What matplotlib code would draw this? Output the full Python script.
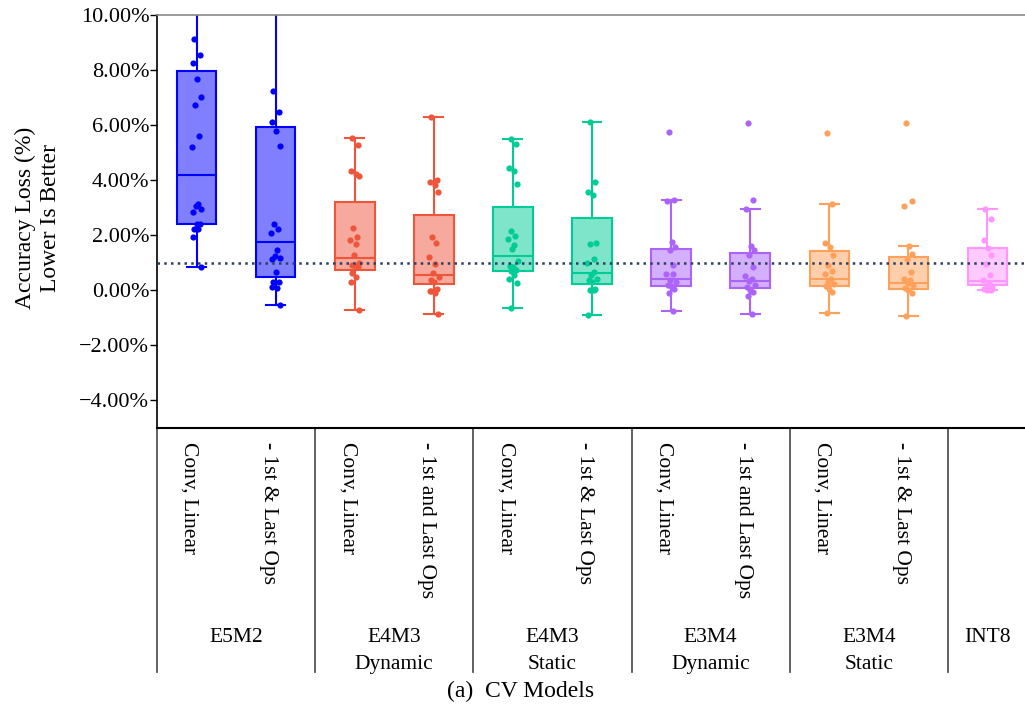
import matplotlib
matplotlib.use("Agg")
import matplotlib.pyplot as plt
from matplotlib.colors import to_rgba
from matplotlib.ticker import FuncFormatter
from matplotlib.transforms import blended_transform_factory

plt.rcParams['font.family'] = ['Liberation Serif', 'DejaVu Serif']

# ---------------- data ----------------
sub_labels = ["Conv, Linear", "- 1st & Last Ops",
              "Conv, Linear", "- 1st and Last Ops",
              "Conv, Linear", "- 1st & Last Ops",
              "Conv, Linear", "- 1st and Last Ops",
              "Conv, Linear", "- 1st & Last Ops",
              None]
group_labels = ["E5M2", "E4M3\nDynamic", "E4M3\nStatic", "E3M4\nDynamic", "E3M4\nStatic", "INT8"]
group_spans = [(0, 1), (2, 3), (4, 5), (6, 7), (8, 9), (10, 10)]
group_colors = ["#0000FF", "#EF553B", "#00CC96", "#AB63FA", "#FFA15A", "#FF97FF"]
box_group = [0, 0, 1, 1, 2, 2, 3, 3, 4, 4, 5]

whislo = [0.84, -0.52, -0.73, -0.85, -0.65, -0.88, -0.75, -0.87, -0.82, -0.93, 0.00]
q1     = [2.41, 0.50, 0.75, 0.23, 0.69, 0.24, 0.17, 0.07, 0.15, 0.05, 0.21]
med    = [4.18, 1.77, 1.18, 0.57, 1.26, 0.62, 0.40, 0.35, 0.42, 0.27, 0.33]
q3     = [7.96, 5.94, 3.21, 2.74, 3.02, 2.62, 1.50, 1.36, 1.43, 1.21, 1.52]
whishi = [12.8, 11.9, 5.52, 6.28, 5.48, 6.12, 3.28, 2.97, 3.13, 1.60, 2.97]

pts0 = [9.13, 8.55, 8.25, 7.66, 7.02, 6.72, 5.61, 5.21, 3.15, 3.07, 2.95, 2.83,
        2.41, 2.41, 2.24, 2.24, 1.92, 0.84, 11.5, 12.8]
pts1 = [7.25, 6.46, 6.12, 5.77, 5.25, 2.41, 2.23, 2.10, 1.45, 1.25, 1.19, 1.14,
        0.68, 0.30, 0.30, 0.10, 0.12, -0.52, 10.8, 11.9]
pts2 = [5.52, 5.27, 4.33, 4.24, 4.16, 2.27, 1.94, 1.82, 1.70, 1.30, 1.01, 0.92,
        0.87, 0.84, 0.63, 0.48, 0.30, -0.73]
pts3 = [6.28, 4.02, 3.95, 3.81, 3.58, 1.92, 1.71, 1.20, 0.97, 0.64, 0.48, 0.36,
        0.30, 0.06, -0.02, -0.10, -0.04, -0.85]
pts4 = [5.48, 5.33, 4.45, 4.35, 3.87, 2.17, 1.96, 1.85, 1.64, 1.50, 1.07, 0.89,
        0.86, 0.73, 0.70, 0.55, 0.42, 0.27, -0.65]
pts5 = [6.12, 3.93, 3.58, 3.48, 1.72, 1.70, 1.12, 0.99, 0.67, 0.55, 0.42, 0.36,
        0.30, 0.06, 0.03, 0.00, -0.88]
pts6 = [5.76, 3.28, 3.23, 1.77, 1.56, 1.48, 0.93, 0.61, 0.59, 0.39, 0.30, 0.21,
        0.15, 0.06, -0.10, -0.75]
pts7 = [6.08, 3.27, 2.97, 1.62, 1.45, 1.27, 0.85, 0.53, 0.40, 0.34, 0.19, 0.12,
        0.03, -0.07, -0.19, -0.87]
pts8 = [5.71, 3.13, 1.72, 1.56, 1.30, 0.93, 0.70, 0.61, 0.40, 0.32, 0.24, 0.15,
        0.06, -0.05, -0.82]
pts9 = [6.06, 3.24, 3.05, 1.60, 1.31, 1.12, 0.65, 0.42, 0.36, 0.27, 0.19, 0.10,
        0.00, -0.10, -0.93]
pts10 = [2.97, 2.58, 1.83, 1.55, 1.30, 0.95, 0.56, 0.36, 0.27, 0.21, 0.12, 0.05,
         0.00, 0.02]
points = [pts0, pts1, pts2, pts3, pts4, pts5, pts6, pts7, pts8, pts9, pts10]

threshold = 1.0
yticks = [-4, -2, 0, 2, 4, 6, 8, 10]

# fixed horizontal jitter pattern for the strip points (positions only)
JIT = [-0.03, 0.04, -0.05, 0.01, 0.05, -0.02, 0.03, -0.06, 0.02, -0.01,
       0.06, -0.04, 0.0, 0.04, -0.03, 0.02, -0.05, 0.05, -0.02, 0.01]

# ---------------- figure ----------------
W, H = 1025, 712
fig = plt.figure(figsize=(W / 100, H / 100), dpi=100)
ax_l, ax_r, ax_t, ax_b = 157, 1027, 15, 428
ax = fig.add_axes([ax_l / W, 1 - ax_b / H, (ax_r - ax_l) / W, (ax_b - ax_t) / H])

positions = list(range(len(q1)))
stats = []
for i in positions:
    stats.append(dict(whislo=whislo[i], q1=q1[i], med=med[i], q3=q3[i],
                      whishi=whishi[i], fliers=[]))

bp = ax.bxp(stats, positions=positions, widths=0.5, capwidths=0.24,
            patch_artist=True, showfliers=False)
for i in positions:
    c = group_colors[box_group[i]]
    b = bp['boxes'][i]
    b.set_facecolor(to_rgba(c, 0.5))
    b.set_edgecolor(c)
    b.set_linewidth(1.5)
    bp['medians'][i].set_color(c)
    bp['medians'][i].set_linewidth(1.5)
    for k in (2 * i, 2 * i + 1):
        bp['whiskers'][k].set_color(c)
        bp['whiskers'][k].set_linewidth(1.5)
        bp['caps'][k].set_color(c)
        bp['caps'][k].set_linewidth(1.5)

for i, pts in enumerate(points):
    c = group_colors[box_group[i]]
    xs = [i + JIT[j % len(JIT)] for j in range(len(pts))]
    ax.scatter(xs, pts, s=20, color=c, zorder=4, linewidths=0)

ax.axhline(threshold, color="#2a3f5f", linestyle=(0, (1, 1.7)), linewidth=1.8, zorder=5)

ax.set_xlim(-0.5, 10.5)
ax.set_ylim(-5, 10)
ax.set_xticks([])
ax.set_yticks(yticks)
ax.yaxis.set_major_formatter(FuncFormatter(
    lambda v, p: ("\u2212" if v < 0 else "") + "%.2f%%" % abs(v)))
ax.tick_params(axis='y', labelsize=16, length=5, width=1, direction='out', pad=0.5)

ax.spines['right'].set_visible(False)
ax.spines['top'].set_color('#888888')
ax.spines['top'].set_linewidth(1.2)
ax.spines['left'].set_color('black')
ax.spines['left'].set_linewidth(1.2)
ax.spines['bottom'].set_color('black')
ax.spines['bottom'].set_linewidth(1.5)

# ---------------- table-like labels below ----------------
trans = blended_transform_factory(ax.transData, ax.transAxes)
ax_h = ax_b - ax_t
def ay(px):
    return (ax_b - px) / ax_h

line_bottom = ay(672)
for x in [-0.5, 1.5, 3.5, 5.5, 7.5, 9.5]:
    ax.plot([x, x], [0, line_bottom], transform=trans, color='#555555',
            linewidth=1.3, clip_on=False)

for i, lab in enumerate(sub_labels):
    if lab is None:
        continue
    ax.text(i - 0.09, ay(442), lab, transform=trans, rotation=270,
            ha='center', va='top', fontsize=15.5)

for (a, b), lab in zip(group_spans, group_labels):
    ax.text((a + b) / 2, ay(628), lab, transform=trans, ha='center', va='top',
            fontsize=15.5, linespacing=1.55)

# y label
fig.text(38 / W, 1 - 218 / H, "Accuracy Loss (%)\nLower Is Better", rotation=90,
         ha='center', va='center', fontsize=17, multialignment='center',
         linespacing=1.2)

# caption
fig.text(521 / W, 1 - 691 / H, "(a)  CV Models", ha='center', va='center', fontsize=17)

fig.savefig("out.png", dpi=100)
